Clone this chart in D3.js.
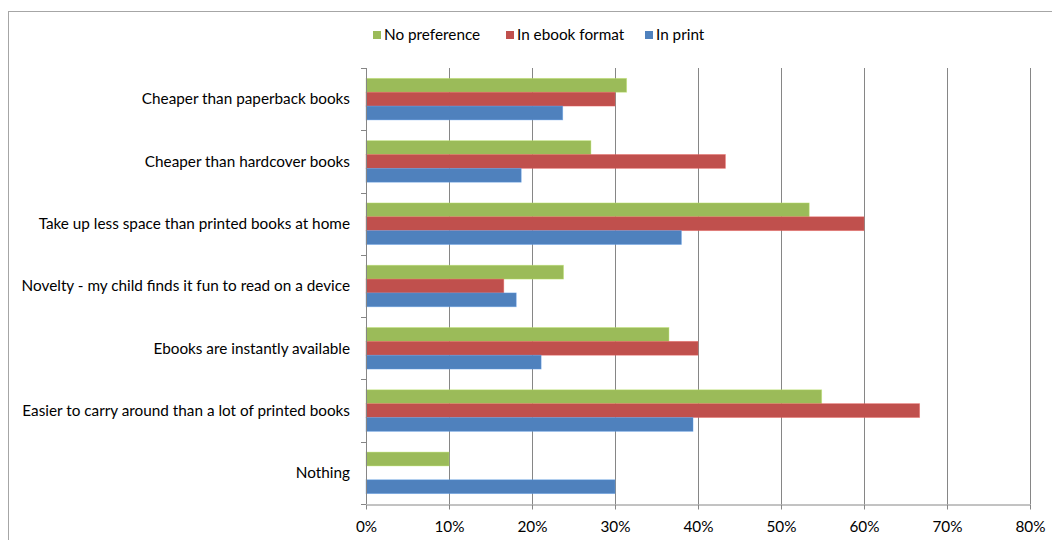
<!DOCTYPE html>
<html>
<head>
<meta charset="utf-8">
<script src="https://cdn.jsdelivr.net/npm/d3@7"></script>
<style>
  html, body { margin: 0; padding: 0; background: #fff; }
  svg { display: block; }
  text { font-family: Lato, "Open Sans", sans-serif; fill: #000; }
</style>
</head>
<body>
<svg id="chart" width="1052" height="540"></svg>
<script>
// Reasons given, top to bottom
const categories = [
  "Cheaper than paperback books",
  "Cheaper than hardcover books",
  "Take up less space than printed books at home",
  "Novelty - my child finds it fun to read on a device",
  "Ebooks are instantly available",
  "Easier to carry around than a lot of printed books",
  "Nothing"
];

// Share of respondents per reason (fraction)
const noPreference = [0.314, 0.271, 0.534, 0.238, 0.365, 0.549, 0.100];
const inEbookFormat = [0.300, 0.433, 0.600, 0.166, 0.400, 0.667, 0.000];
const inPrint = [0.237, 0.187, 0.380, 0.181, 0.211, 0.394, 0.300];

const seriesNames = ["No preference", "In ebook format", "In print"];
const seriesColors = ["#9BBB59", "#C0504D", "#4F81BD"];
const seriesValues = [noPreference, inEbookFormat, inPrint];

const xTicks = [0, 0.1, 0.2, 0.3, 0.4, 0.5, 0.6, 0.7, 0.8];

const FONT_SIZE = "15.3px";

const svg = d3.select("#chart");

// Outer chart frame
svg.append("rect")
  .attr("x", 8.5).attr("y", 11.5)
  .attr("width", 1100).attr("height", 600)
  .attr("fill", "#fff")
  .attr("stroke", "#a6a6a6").attr("stroke-width", 1);

const plot = { left: 366, right: 1030, top: 68, bottom: 504 };

const x = d3.scaleLinear().domain([0, 0.8]).range([plot.left, plot.right]);
const y = d3.scaleBand().domain(categories).range([plot.top, plot.bottom]).padding(0);
const ySub = d3.scaleBand().domain(seriesNames).range([0, y.bandwidth()])
  .paddingInner(0).paddingOuter(0.75);

// Vertical gridlines
svg.append("g")
  .selectAll("line")
  .data(xTicks.slice(1))
  .join("line")
  .attr("x1", d => Math.round(x(d)) + 0.5)
  .attr("x2", d => Math.round(x(d)) + 0.5)
  .attr("y1", plot.top).attr("y2", plot.bottom)
  .attr("stroke", "#868686").attr("stroke-width", 1);

// Bars
const rows = categories.map((c, i) => ({
  category: c,
  values: seriesNames.map((s, j) => ({ series: s, color: seriesColors[j], value: seriesValues[j][i] }))
}));

const groups = svg.append("g")
  .selectAll("g")
  .data(rows)
  .join("g")
  .attr("transform", d => `translate(0,${y(d.category)})`);

groups.selectAll("rect")
  .data(d => d.values.filter(v => v.value > 0))
  .join("rect")
  .attr("x", x(0))
  .attr("y", d => ySub(d.series))
  .attr("width", d => x(d.value) - x(0))
  .attr("height", ySub.bandwidth())
  .attr("fill", d => d.color)
  .attr("stroke", d => d3.color(d.color).brighter(0.6))
  .attr("stroke-opacity", 0.5)
  .attr("stroke-width", 0.8);

// X axis
const xAxis = d3.axisBottom(x)
  .tickValues(xTicks)
  .tickFormat(d3.format(".0%"))
  .tickSize(5)
  .tickSizeOuter(0);

const gx = svg.append("g")
  .attr("transform", `translate(0,${plot.bottom + 0.5})`)
  .call(xAxis);
gx.select(".domain").attr("stroke", "#868686");
gx.selectAll(".tick line").attr("stroke", "#868686");
gx.selectAll(".tick text")
  .attr("y", 17)
  .style("font-size", FONT_SIZE)
  .style("font-family", "Lato, 'Open Sans', sans-serif")
  .attr("fill", "#000");

// Y axis: line at zero with ticks on category boundaries
svg.append("line")
  .attr("x1", plot.left + 0.5).attr("x2", plot.left + 0.5)
  .attr("y1", plot.top).attr("y2", plot.bottom)
  .attr("stroke", "#868686");

const boundaries = categories.map(c => y(c)).concat([plot.bottom]);
svg.append("g")
  .selectAll("line")
  .data(boundaries)
  .join("line")
  .attr("x1", plot.left - 5).attr("x2", plot.left)
  .attr("y1", d => Math.round(d) + 0.5).attr("y2", d => Math.round(d) + 0.5)
  .attr("stroke", "#868686");

// Category labels
svg.append("g")
  .selectAll("text")
  .data(categories)
  .join("text")
  .attr("x", 350)
  .attr("y", d => y(d) + y.bandwidth() / 2)
  .attr("dy", "0.35em")
  .attr("text-anchor", "end")
  .style("font-size", FONT_SIZE)
  .text(d => d);

// Legend
const legendItems = [
  { name: seriesNames[0], color: seriesColors[0], x: 373 },
  { name: seriesNames[1], color: seriesColors[1], x: 506 },
  { name: seriesNames[2], color: seriesColors[2], x: 645 }
];
const legend = svg.append("g")
  .selectAll("g")
  .data(legendItems)
  .join("g")
  .attr("transform", d => `translate(${d.x},35)`);
legend.append("rect")
  .attr("x", 0).attr("y", -4)
  .attr("width", 8).attr("height", 8)
  .attr("fill", d => d.color);
legend.append("text")
  .attr("x", 11).attr("y", 0).attr("dy", "0.35em")
  .style("font-size", FONT_SIZE)
  .text(d => d.name);
</script>
</body>
</html>
